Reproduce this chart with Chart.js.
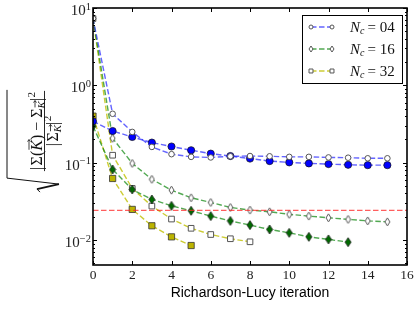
<!DOCTYPE html>
<html><head><meta charset="utf-8">
<script src="https://cdn.jsdelivr.net/npm/chart.js@4.4.1/dist/chart.umd.min.js"></script>
<style>html,body{margin:0;padding:0;background:#fff;}canvas{display:block;}</style>
</head><body>
<canvas id="c" width="415" height="312"></canvas>
<script>
// ---- data ----
const iterations = [0,1,2,3,4,5,6,7,8,9,10,11,12,13,14,15];
const nc04Open   = [7.3,0.429,0.250,0.160,0.129,0.119,0.117,0.121,0.122,0.121,0.119,0.119,0.117,0.116,0.114,0.114];
const nc04Filled = [0.343,0.257,0.215,0.182,0.162,0.145,0.131,0.122,0.113,0.105,0.101,0.098,0.096,0.094,0.093,0.093];
const nc16Open   = [7.3,0.207,0.098,0.061,0.0442,0.0352,0.0306,0.0264,0.0244,0.0232,0.0215,0.0204,0.0194,0.0185,0.0177,0.0172];
const nc16Filled = [0.296,0.0817,0.0451,0.0335,0.0277,0.0239,0.0204,0.0177,0.0156,0.0137,0.0124,0.0110,0.0102,0.0094];
const nc32Open   = [7.3,0.125,0.0465,0.0275,0.0187,0.0142,0.0118,0.0104,0.0095];
const nc32Filled = [0.40,0.0625,0.0249,0.0153,0.0110,0.0085];
const thresholdX = [0,16];
const thresholdY = [0.0242,0.0242];
const xTickValues = [0,2,4,6,8,10,12,14,16];
const yTickExponents = [-2,-1,0,1];
const legendLabels = ['04','16','32'];

const SERIF = '"Liberation Serif","DejaVu Serif",serif';
const SANS = '"Liberation Sans","DejaVu Sans",sans-serif';

function pts(xs, ys){ return ys.map((v,i)=>({x:xs[i], y:v})); }

function diamondImg(w,h,fill,stroke,lw){
  const c=document.createElement('canvas'); c.width=w+2; c.height=h+2;
  const g=c.getContext('2d');
  const cx=(w+2)/2, cy=(h+2)/2;
  g.beginPath(); g.moveTo(cx,cy-h/2); g.lineTo(cx+w/2,cy); g.lineTo(cx,cy+h/2); g.lineTo(cx-w/2,cy); g.closePath();
  g.fillStyle=fill; g.fill(); g.strokeStyle=stroke; g.lineWidth=lw; g.stroke();
  return c;
}
const dOpen = diamondImg(5,8,'#fff','#555',1);
const dFilled = diamondImg(6,9,'#006a00','#222',0.8);
const dOpenSmall = diamondImg(4,6,'#fff','#555',1);

const BLUE='rgba(40,40,255,0.72)', GREEN='rgba(0,128,0,0.68)', YEL='rgba(191,191,0,0.8)';
const dash=[5.5,2.5];

function ds(data, color, style, fill, border, radius, bw){
  return {data, borderColor:color, borderWidth:1.4, borderDash:dash, pointStyle:style,
    pointBackgroundColor:fill, pointBorderColor:border, pointRadius:radius, pointBorderWidth:bw,
    pointHoverRadius:radius, fill:false, tension:0};
}

const datasets = [
  {data: pts(thresholdX, thresholdY), borderColor:'rgba(255,40,40,0.75)', borderWidth:1.4, borderDash:[5.5,2.5], pointRadius:0, fill:false},
  ds(pts(iterations,nc04Open), BLUE, 'circle', '#fff', '#555', 2.8, 1),
  ds(pts(iterations,nc04Filled), BLUE, 'circle', '#0000ff', '#111', 3.6, 0.7),
  ds(pts(iterations,nc16Open), GREEN, dOpen, '#fff', '#555', 3, 1),
  ds(pts(iterations,nc16Filled), GREEN, dFilled, '#006a00', '#222', 3, 1),
  ds(pts(iterations,nc32Open), YEL, 'rect', '#fff', '#555', 4.0, 1),
  ds(pts(iterations,nc32Filled), YEL, 'rect', '#bcb400', '#333', 4.4, 0.8),
];

function drawParts(ctx, parts, cx, base){
  let total=0;
  parts.forEach(p=>{ctx.font=p.font; p.w=ctx.measureText(p.t).width; total+=p.w+(p.gap||0);});
  let x=cx-total/2;
  parts.forEach(p=>{
    ctx.font=p.font; const y=base+(p.dy||0);
    ctx.fillText(p.t, x, y);
    if(p.arrow){
      const ay=y-p.arrow; ctx.beginPath(); ctx.lineWidth=0.8;
      ctx.moveTo(x+1,ay); ctx.lineTo(x+p.w+0.5,ay);
      ctx.moveTo(x+p.w-1.5,ay-1.5); ctx.lineTo(x+p.w+0.5,ay); ctx.lineTo(x+p.w-1.5,ay+1.5);
      ctx.stroke();
    }
    x+=p.w+(p.gap||0);
  });
  return total;
}

const decor = {
  id:'decor',
  afterDraw(chart){
    const ctx=chart.ctx, a=chart.chartArea, xs=chart.scales.x, ys=chart.scales.y;
    ctx.save();
    // ticks (inward)
    ctx.strokeStyle='#000'; ctx.lineWidth=1;
    xTickValues.forEach(v=>{
      const px=Math.round(xs.getPixelForValue(v))+0.5;
      ctx.beginPath(); ctx.moveTo(px,a.bottom); ctx.lineTo(px,a.bottom-4);
      ctx.moveTo(px,a.top); ctx.lineTo(px,a.top+4); ctx.stroke();
    });
    for(let e=-3;e<=1;e++){
      for(let m=1;m<=9;m++){
        const v=m*Math.pow(10,e);
        if(v<ys.min*0.999||v>ys.max*1.001) continue;
        const py=Math.round(ys.getPixelForValue(v))+0.5;
        const L=(m===1)?4:2;
        ctx.beginPath(); ctx.moveTo(a.left,py); ctx.lineTo(a.left+L,py);
        ctx.moveTo(a.right,py); ctx.lineTo(a.right-L,py); ctx.stroke();
      }
    }
    // frame
    ctx.lineWidth=1.6; ctx.strokeStyle='#000';
    ctx.strokeRect(a.left,a.top,a.right-a.left,a.bottom-a.top);
    // x tick labels
    ctx.fillStyle='#222'; ctx.font='13.5px '+SERIF; ctx.textAlign='center'; ctx.textBaseline='alphabetic';
    xTickValues.forEach(v=>{ ctx.fillText(String(v), xs.getPixelForValue(v), a.bottom+14); });
    // y tick labels
    ctx.textAlign='left';
    yTickExponents.forEach(e=>{
      const py=ys.getPixelForValue(Math.pow(10,e));
      const ex=(e<0?'\u2212':'')+Math.abs(e);
      ctx.font='15px '+SERIF; const w1=ctx.measureText('10').width;
      ctx.font='10.5px '+SERIF; const w2=ctx.measureText(ex).width;
      const x0=91-(w1+w2);
      ctx.font='15px '+SERIF; ctx.fillText('10',x0,py+7);
      ctx.font='10.5px '+SERIF; ctx.fillText(ex,x0+w1,py+1.5);
    });
    // x title
    ctx.fillStyle='#000'; ctx.font='14px '+SANS; ctx.textAlign='center';
    ctx.fillText('Richardson-Lucy iteration',(a.left+a.right)/2,297);
    // y title (rotated)
    ctx.save();
    ctx.translate(30,131); ctx.rotate(-Math.PI/2);
    ctx.textAlign='left'; ctx.fillStyle='#111'; ctx.strokeStyle='#111';
    const F='16px '+SERIF, FI='italic 16px '+SERIF, FS='11px '+SERIF, FSI='italic 11px '+SERIF;
    const num=[
      {t:'|',font:F,gap:1.5},{t:'\u03A3',font:F},{t:'(',font:F},{t:'K',font:FI,arrow:13},{t:')',font:F,gap:4},
      {t:'\u2212',font:F,gap:4},{t:'\u03A3',font:F},{t:'K',font:FSI,dy:3,arrow:10},{t:'|',font:F,gap:0.5},{t:'2',font:FS,dy:-7}
    ];
    const wn=drawParts(ctx,num,0,12);
    ctx.lineWidth=0.9; ctx.beginPath(); ctx.moveTo(-wn/2-1,14.5); ctx.lineTo(wn/2+1,14.5); ctx.stroke();
    const den=[{t:'|',font:F,gap:1.5},{t:'\u03A3',font:F},{t:'K',font:FSI,dy:3,arrow:10},{t:'|',font:F,gap:0.5},{t:'2',font:FS,dy:-7}];
    drawParts(ctx,den,0,27.5);
    // radical
    const r0=-wn/2-8;
    ctx.lineWidth=1; ctx.beginPath();
    ctx.moveTo(r0-14,10); ctx.lineTo(r0-11,7); ctx.stroke();
    ctx.lineWidth=2; ctx.beginPath(); ctx.moveTo(r0-11,7); ctx.lineTo(r0-6,29); ctx.stroke();
    ctx.lineWidth=1; ctx.beginPath(); ctx.moveTo(r0-6,29); ctx.lineTo(r0,-23); ctx.lineTo(wn/2+2,-23); ctx.stroke();
    ctx.restore();
    // legend
    const lx=302, ly=15, lw=100, lh=68;
    ctx.fillStyle='#fff'; ctx.fillRect(lx,ly,lw,lh);
    ctx.lineWidth=1; ctx.strokeStyle='#000'; ctx.strokeRect(lx+0.5,ly+0.5,lw,lh);
    const rows=[
      {y:27, color:BLUE, style:'circle', r:2, fill:'#fff'},
      {y:49, color:GREEN, style:dOpenSmall, r:2, fill:'#fff'},
      {y:71, color:YEL, style:'rect', r:2.8, fill:'#fff'}
    ];
    rows.forEach((r,i)=>{
      ctx.save();
      ctx.strokeStyle=r.color; ctx.lineWidth=1.4; ctx.setLineDash(dash);
      ctx.beginPath(); ctx.moveTo(311,r.y); ctx.lineTo(332,r.y); ctx.stroke();
      ctx.setLineDash([]);
      ctx.fillStyle=r.fill; ctx.strokeStyle='#555'; ctx.lineWidth=1;
      [311,332].forEach(px=>Chart.helpers.drawPoint(ctx,{pointStyle:r.style,radius:r.r,rotation:0,borderWidth:1},px,r.y));
      ctx.restore();
      ctx.fillStyle='#111'; ctx.textAlign='left';
      let x=350;
      ctx.font='italic 15px '+SERIF; ctx.fillText('N',x,r.y+5); x+=ctx.measureText('N').width;
      ctx.font='italic 10px '+SERIF; ctx.fillText('c',x,r.y+7); x+=ctx.measureText('c').width+3;
      ctx.font='15px '+SERIF; ctx.fillText('= '+legendLabels[i],x,r.y+5);
    });
    ctx.restore();
  }
};

new Chart(document.getElementById('c'),{
  type:'line',
  data:{datasets},
  options:{
    responsive:false, animation:false, devicePixelRatio:1,
    layout:{padding:{left:93,right:8,top:8,bottom:47}},
    plugins:{legend:{display:false},tooltip:{enabled:false}},
    scales:{
      x:{type:'linear',min:0,max:16,display:false},
      y:{type:'logarithmic',min:0.00476,max:10,display:false}
    }
  },
  plugins:[decor]
});
</script>
</body></html>
